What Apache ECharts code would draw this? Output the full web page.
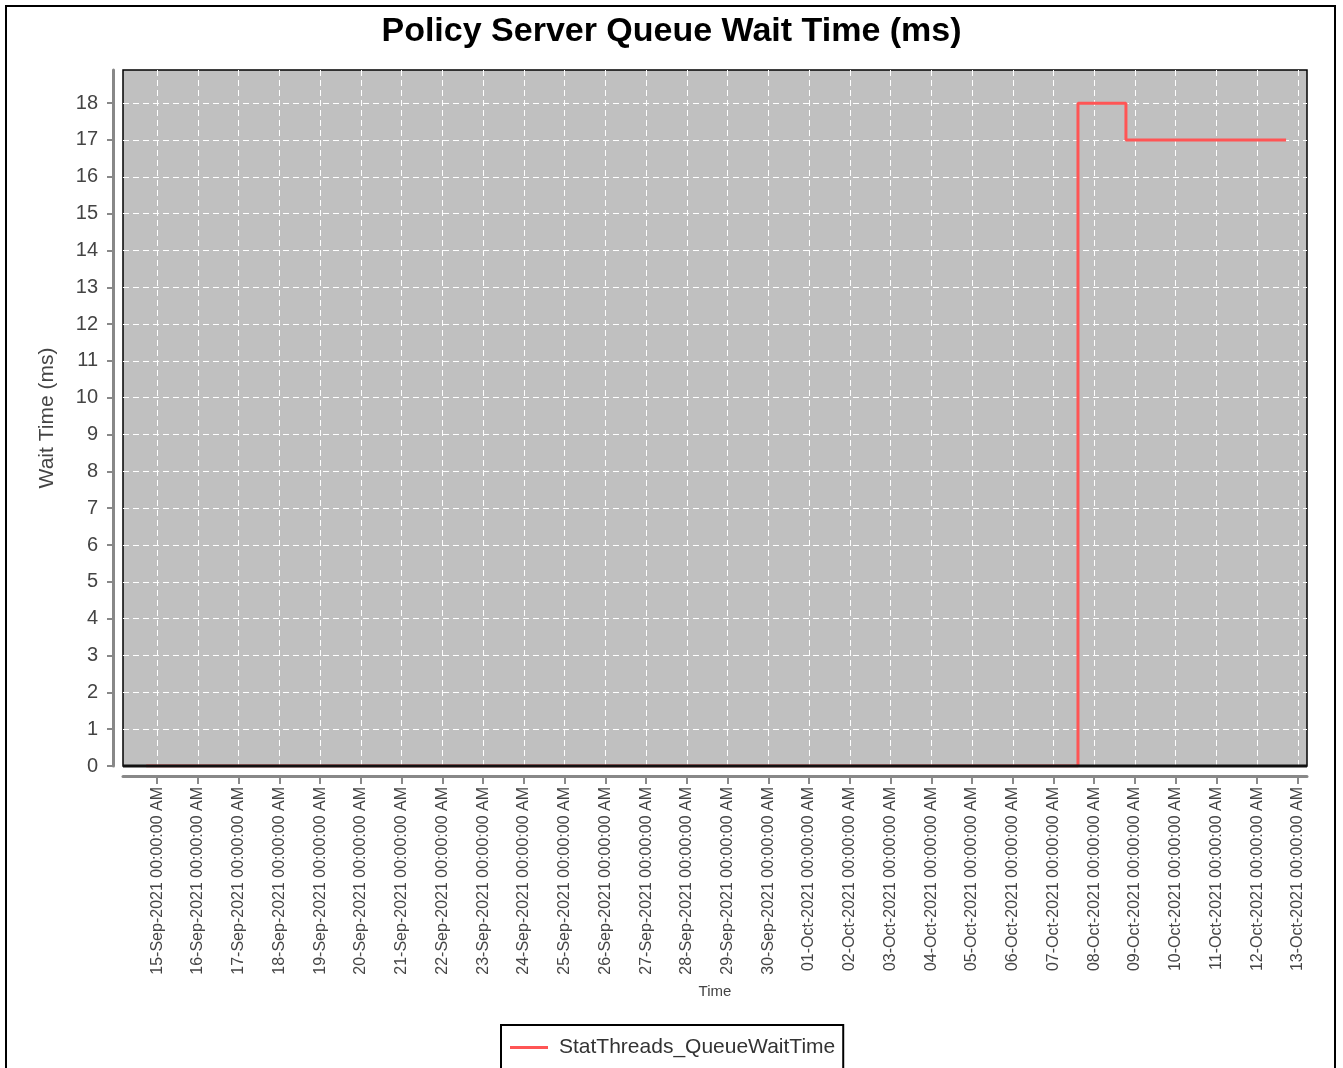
<!DOCTYPE html>
<html>
<head>
<meta charset="utf-8">
<title>Policy Server Queue Wait Time (ms)</title>
<script src="https://cdn.jsdelivr.net/npm/echarts@6/dist/echarts.min.js"></script>
<style>
    html, body { margin: 0; padding: 0; background: #fff; }
    #chart { width: 1343px; height: 1068px; }
</style>
</head>
<body>
<div id="chart"></div>
<script>
    // day labels on the x axis, one per tick
    var tickDates = [
        '15-Sep-2021', '16-Sep-2021', '17-Sep-2021', '18-Sep-2021', '19-Sep-2021',
        '20-Sep-2021', '21-Sep-2021', '22-Sep-2021', '23-Sep-2021', '24-Sep-2021',
        '25-Sep-2021', '26-Sep-2021', '27-Sep-2021', '28-Sep-2021', '29-Sep-2021',
        '30-Sep-2021', '01-Oct-2021', '02-Oct-2021', '03-Oct-2021', '04-Oct-2021',
        '05-Oct-2021', '06-Oct-2021', '07-Oct-2021', '08-Oct-2021', '09-Oct-2021',
        '10-Oct-2021', '11-Oct-2021', '12-Oct-2021', '13-Oct-2021'
    ];
    var yTicks = [0, 1, 2, 3, 4, 5, 6, 7, 8, 9, 10, 11, 12, 13, 14, 15, 16, 17, 18];

    // StatThreads_QueueWaitTime (step line)
    var waitTimes = ['2021-09-14T17:30', '2021-10-07T14:25', '2021-10-08T18:40', '2021-10-12T17:00'];
    var waitValues = [0, 18, 17, 17];

    var axisStart = '2021-09-14T03:50';
    var axisEnd = '2021-10-13T05:20';

    var DAY = 86400000;
    var origin = Date.UTC(2021, 8, 15);

    function toDay(s) {
        var p = s.split(/[-T:]/);
        return (Date.UTC(+p[0], +p[1] - 1, +p[2], +p[3], +p[4]) - origin) / DAY;
    }

    var font = "'Liberation Sans', Arial, sans-serif";
    var tickDays = tickDates.map(function (d, i) { return i; });
    var lineData = waitTimes.map(function (t, i) { return [toDay(t), waitValues[i]]; });

    var chart = echarts.init(document.getElementById('chart'), null, {renderer: 'canvas'});

    var option = {
        backgroundColor: '#fff',
        animation: false,
        title: {
            text: 'Policy Server Queue Wait Time (ms)',
            left: 'center',
            top: 10,
            textStyle: {
                fontFamily: font,
                fontSize: 34,
                fontWeight: 'bold',
                color: '#000'
            }
        },
        graphic: [{
            // outer frame
            type: 'rect',
            shape: {x: 6, y: 6, width: 1329, height: 1080},
            style: {fill: null, stroke: '#000', lineWidth: 2},
            silent: true,
            z: 100
        }, {
            // bottom edge of the plot drawn over the zero line
            type: 'line',
            shape: {x1: 123, y1: 766, x2: 1307, y2: 766},
            style: {stroke: '#111', lineWidth: 3},
            silent: true,
            z: 50
        }],
        legend: {
            left: 501,
            top: 1025,
            padding: [12, 8, 14, 9],
            borderColor: '#000',
            borderWidth: 2,
            itemWidth: 38,
            itemHeight: 3,
            textStyle: {
                fontFamily: font,
                fontSize: 21,
                color: '#333',
                padding: [0, 0, 0, 6]
            },
            data: [{name: 'StatThreads_QueueWaitTime', icon: 'rect'}]
        },
        grid: {
            left: 123,
            right: 36,
            top: 70,
            bottom: 302,
            show: true,
            backgroundColor: '#c0c0c0',
            borderColor: '#000',
            borderWidth: 1.5
        },
        xAxis: {
            type: 'value',
            min: toDay(axisStart),
            max: toDay(axisEnd),
            interval: 1,
            offset: 10,
            name: 'Time',
            nameLocation: 'middle',
            nameGap: 208,
            nameTextStyle: {fontFamily: font, fontSize: 15, color: '#444'},
            axisLine: {show: true, onZero: false, lineStyle: {color: '#888', width: 3}},
            axisTick: {
                show: true,
                length: 8,
                customValues: tickDays,
                lineStyle: {color: '#888', width: 2}
            },
            axisLabel: {
                customValues: tickDays,
                rotate: 90,
                margin: 11,
                fontFamily: font,
                fontSize: 16,
                color: '#444',
                formatter: function (v) {
                    var d = tickDates[Math.round(v)];
                    return d ? d + ' 00:00:00 AM' : '';
                }
            },
            splitLine: {
                show: true,
                lineStyle: {color: '#fff', width: 1, type: [6, 4]}
            }
        },
        yAxis: {
            type: 'value',
            min: 0,
            max: 18.9,
            interval: 1,
            offset: 10,
            name: 'Wait Time (ms)',
            nameLocation: 'middle',
            nameGap: 55,
            nameTextStyle: {fontFamily: font, fontSize: 21, color: '#444'},
            axisLine: {show: true, onZero: false, lineStyle: {color: '#888', width: 3}},
            axisTick: {
                show: true,
                length: 6,
                customValues: yTicks,
                lineStyle: {color: '#888', width: 2}
            },
            axisLabel: {
                customValues: yTicks,
                margin: 15,
                fontFamily: font,
                fontSize: 20,
                color: '#444'
            },
            splitLine: {
                show: true,
                lineStyle: {color: '#fff', width: 1, type: [6, 4]}
            }
        },
        series: [{
            name: 'StatThreads_QueueWaitTime',
            type: 'line',
            step: 'end',
            symbol: 'none',
            color: '#ff5555',
            lineStyle: {color: '#ff5555', width: 3},
            data: lineData
        }]
    };

    chart.setOption(option);
</script>
</body>
</html>
